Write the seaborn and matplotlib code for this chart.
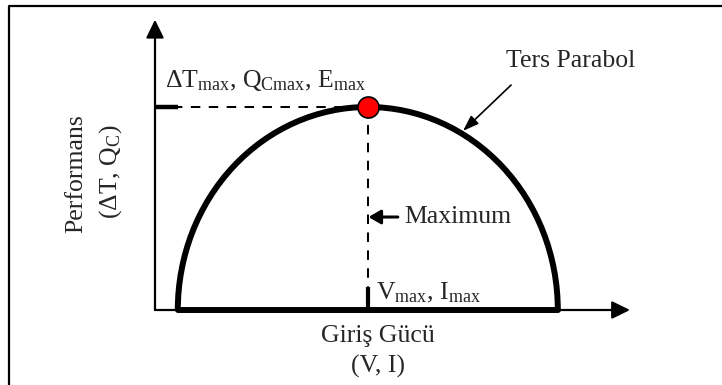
import numpy as np
import pandas as pd
import seaborn as sns
import matplotlib.pyplot as plt
from matplotlib.patches import Arc

# -----------------------------------------------------------------------------
# DATOS (unidades del esquema: potencia de entrada vs. rendimiento)
# -----------------------------------------------------------------------------
x_foot = [0.6, 10.6]          # pies de la curva sobre el eje x
x_peak = 5.6                  # posición del máximo (Vmax, Imax)
y_peak = 5.0                  # altura del máximo (ΔTmax, QCmax, Emax)
x_axis_end = 12.5
y_axis_end = 7.15
tick_len = [0.6, 0.57]        # marcas gruesas en ejes (x, y)

label_peak = r"ΔT$_\mathrm{max}$, Q$_\mathrm{Cmax}$, E$_\mathrm{max}$"
label_vi = r"V$_\mathrm{max}$, I$_\mathrm{max}$"
label_curve = "Ters Parabol"
label_max = "Maximum"
xlabel_lines = ["Giriş Gücü", "(V, I)"]
ylabel_lines = ["Performans", r"(ΔT, Q$_\mathrm{C}$)"]

sns.set_theme(style="white")
plt.rcParams["font.family"] = ["Liberation Serif", "DejaVu Serif"]
plt.rcParams["mathtext.fontset"] = "custom"
plt.rcParams["mathtext.rm"] = "Liberation Serif"
plt.rcParams["mathtext.it"] = "Liberation Serif:italic"

FS = 18.5
DASH = (4.7, 4.2)

fig = plt.figure(figsize=(7.22, 3.85), dpi=100)
ax = fig.add_axes([0, 0, 1, 1])
ax.set_xlim(-155 / 38, 567 / 38)
ax.set_ylim(-75 / 40.6, 310 / 40.6)
ax.axis("off")

# marco (solo izquierda y arriba)
ax.plot([0.0125, 0.0125, 1.05], [-0.1, 0.984, 0.984], transform=ax.transAxes,
        color="black", lw=1.6, clip_on=False)

# ejes con flechas
head = "-|>,head_length=0.55,head_width=0.27"
ax.annotate("", xy=(0, y_axis_end), xytext=(0, 0),
            arrowprops=dict(arrowstyle=head, lw=1.6, color="black",
                            mutation_scale=20, shrinkA=0, shrinkB=0))
ax.annotate("", xy=(x_axis_end, 0), xytext=(0, 0),
            arrowprops=dict(arrowstyle=head, lw=1.6, color="black",
                            mutation_scale=20, shrinkA=0, shrinkB=0))

# curva (semi-elipse) y base
ax.add_patch(Arc((x_peak, 0), x_foot[1] - x_foot[0], 2 * y_peak,
                 theta1=0, theta2=180, lw=4.3, color="black", zorder=3))
base = pd.DataFrame({"x": x_foot, "y": [0, 0]})
sns.lineplot(data=base, x="x", y="y", ax=ax, color="black", lw=4.3,
             zorder=3, legend=False)

# líneas discontinuas hacia el máximo
sns.lineplot(x=[0, x_peak], y=[y_peak, y_peak], ax=ax, color="black",
             lw=1.45, dashes=DASH, zorder=2)
ax.plot([x_peak, x_peak], [y_peak, tick_len[1]], color="black", lw=1.45,
        dashes=DASH, zorder=2)

# marcas gruesas
ax.plot([0, tick_len[0]], [y_peak, y_peak], color="black", lw=3.2,
        solid_capstyle="butt")
ax.plot([x_peak, x_peak], [0, tick_len[1]], color="black", lw=3.0,
        solid_capstyle="butt")

# punto máximo
sns.scatterplot(x=[x_peak], y=[y_peak], ax=ax, s=230, color="red",
                edgecolor="black", linewidth=1.2, zorder=5)

# textos
ax.text(0.26, 5.49, label_peak, fontsize=FS, ha="left", va="baseline")
ax.text(5.82, 0.25, label_vi, fontsize=FS, ha="left", va="baseline")
ax.text(10.95, 5.99, label_curve, fontsize=FS, ha="center", va="baseline")
ax.text(6.55, 2.29, label_max, fontsize=FS, ha="left", va="center")
ax.text(5.87, -0.64, xlabel_lines[0], fontsize=FS, ha="center", va="center")
ax.text(5.87, -1.38, xlabel_lines[1], fontsize=FS, ha="center", va="center")
ax.text(-2.08, 3.36, ylabel_lines[0], fontsize=FS, ha="center", va="center",
        rotation=90)
ax.text(-1.16, 3.41, ylabel_lines[1], fontsize=FS, ha="center", va="center",
        rotation=90)

# flechas de anotación
ax.annotate("", xy=(5.62, 2.29), xytext=(6.39, 2.29),
            arrowprops=dict(arrowstyle="-|>,head_length=0.6,head_width=0.35",
                            lw=2.2, color="black", mutation_scale=12,
                            shrinkA=0, shrinkB=0))
ax.annotate("", xy=(8.105, 4.41), xytext=(9.37, 5.54),
            arrowprops=dict(arrowstyle="-|>,head_length=0.8,head_width=0.28",
                            lw=1.2, color="black", mutation_scale=12,
                            shrinkA=0, shrinkB=0))

fig.savefig("out.png", dpi=100)
